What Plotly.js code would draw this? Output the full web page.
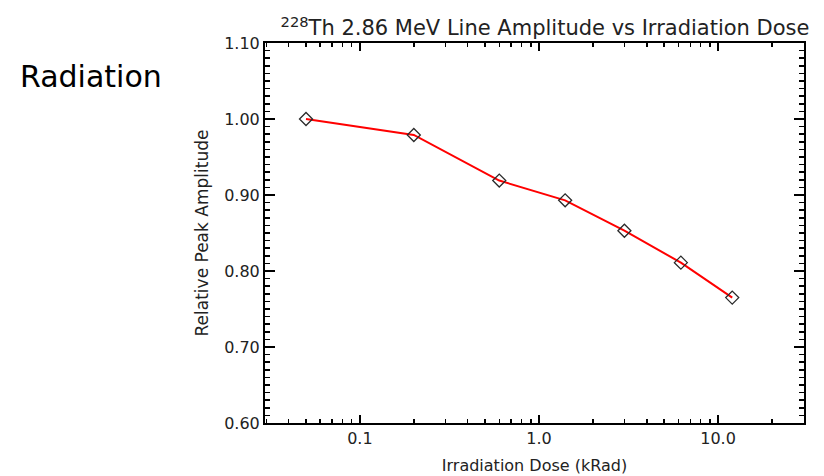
<!DOCTYPE html>
<html>
<head>
<meta charset="utf-8">
<script src="https://cdn.plot.ly/plotly-3.0.1.min.js"></script>
<style>html,body{margin:0;padding:0;background:#fff;}</style>
</head>
<body>
<div id="chart" style="width:824px;height:476px"></div>
<script>
const dose = [0.05, 0.2, 0.6, 1.4, 3.0, 6.2, 12];
const amplitude = [1.000, 0.979, 0.919, 0.893, 0.853, 0.811, 0.765];
const xTickVals = [0.1, 1, 10];
const xTickText = ["0.1", "1.0", "10.0"];
const yTickVals = [0.6, 0.7, 0.8, 0.9, 1.0, 1.1];
const yTickText = ["0.60", "0.70", "0.80", "0.90", "1.00", "1.10"];

const font = "DejaVu Sans, Liberation Sans, Arial, sans-serif";

const trace = {
  x: dose,
  y: amplitude,
  type: "scatter",
  mode: "lines+markers",
  line: {color: "#ff0000", width: 2},
  marker: {symbol: "diamond-open", size: 10, color: "#2a2a2a", line: {width: 1.3, color: "#2a2a2a"}},
  hoverinfo: "x+y"
};

const axisCommon = {
  showline: true,
  linecolor: "#000",
  linewidth: 2,
  mirror: "ticks",
  ticks: "inside",
  tickcolor: "#000",
  tickwidth: 1.5,
  showgrid: false,
  zeroline: false,
  tickfont: {family: font, size: 16, color: "#222"}
};

const layout = {
  width: 824,
  height: 476,
  margin: {l: 265, r: 20, t: 43, b: 53},
  paper_bgcolor: "#fff",
  plot_bgcolor: "#fff",
  showlegend: false,
  title: {
    text: "<sup>228</sup>Th 2.86 MeV Line Amplitude vs Irradiation Dose",
    font: {family: font, size: 21, color: "#222"},
    x: 545 / 824, xref: "container", xanchor: "center",
    y: 1 - 28 / 476, yref: "container", yanchor: "middle"
  },
  xaxis: Object.assign({}, axisCommon, {
    type: "log",
    range: [-1.53, 1.48],
    tickmode: "array",
    tickvals: xTickVals,
    ticktext: xTickText,
    ticklen: 8,
    minor: {ticks: "inside", ticklen: 4, dtick: "D1", tickcolor: "#000", tickwidth: 1.5, showgrid: false},
    title: {text: "Irradiation Dose (kRad)", font: {family: font, size: 16, color: "#222"}, standoff: 13}
  }),
  yaxis: Object.assign({}, axisCommon, {
    range: [0.6, 1.1],
    tickmode: "array",
    tickvals: yTickVals,
    ticktext: yTickText,
    ticklen: 10,
    minor: {ticks: "inside", ticklen: 5, dtick: 0.01, tick0: 0.6, tickcolor: "#000", tickwidth: 1.5, showgrid: false},
    title: {text: "Relative Peak Amplitude", font: {family: font, size: 17, color: "#222"}, standoff: 11}
  }),
  annotations: [{
    text: "Radiation",
    xref: "paper", yref: "paper",
    x: (18 - 265) / 539, y: (423 - 76) / 380,
    xanchor: "left", yanchor: "middle",
    showarrow: false,
    font: {family: font, size: 30, color: "#000"}
  }]
};

Plotly.newPlot("chart", [trace], layout, {displayModeBar: false, staticPlot: true});
</script>
</body>
</html>
